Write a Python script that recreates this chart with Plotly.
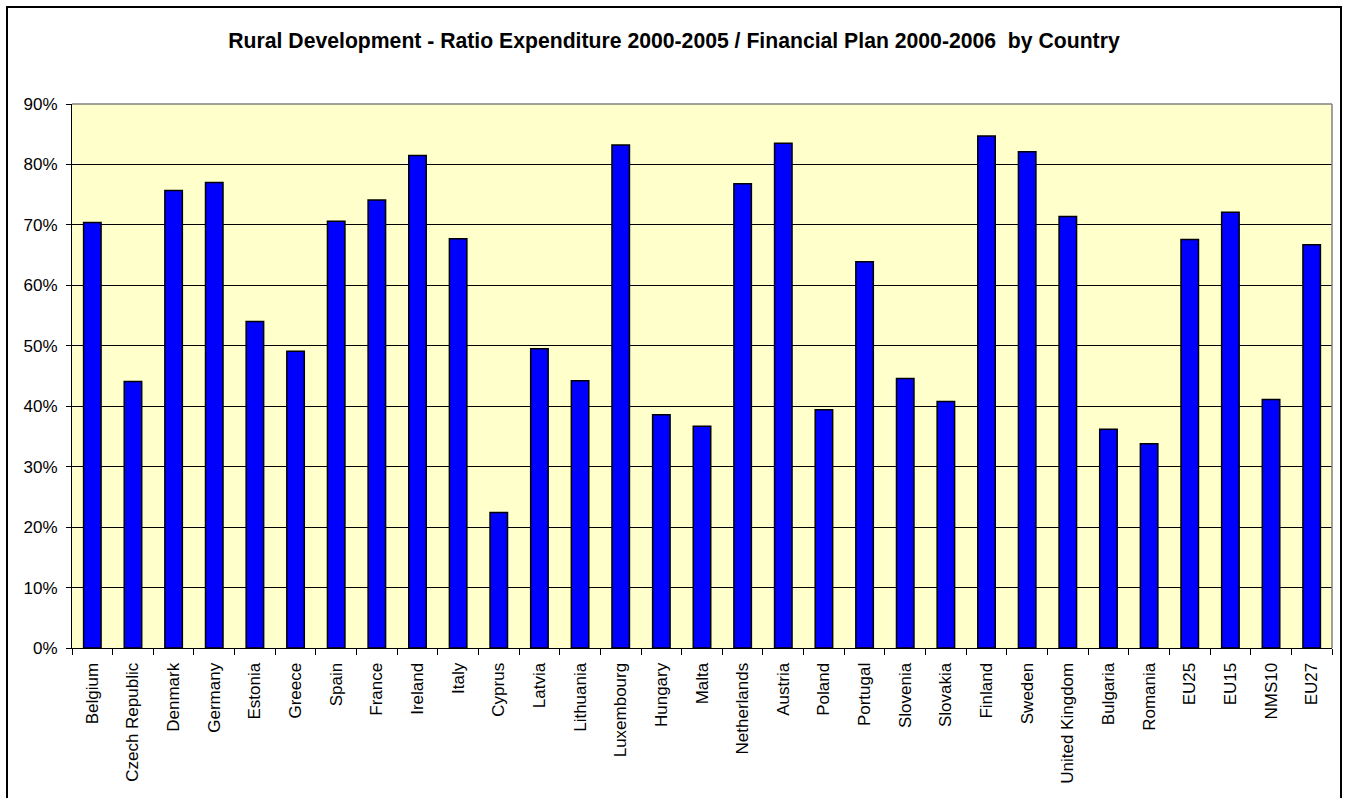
import plotly.graph_objects as go

countries = ["Belgium", "Czech Republic", "Denmark", "Germany", "Estonia", "Greece", "Spain",
             "France", "Ireland", "Italy", "Cyprus", "Latvia", "Lithuania", "Luxembourg",
             "Hungary", "Malta", "Netherlands", "Austria", "Poland", "Portugal", "Slovenia",
             "Slovakia", "Finland", "Sweden", "United Kingdom", "Bulgaria", "Romania",
             "EU25", "EU15", "NMS10", "EU27"]
ratios = [0.704, 0.441, 0.757, 0.770, 0.540, 0.491, 0.706,
          0.741, 0.815, 0.677, 0.224, 0.495, 0.442, 0.832,
          0.386, 0.367, 0.768, 0.835, 0.394, 0.639, 0.446,
          0.408, 0.847, 0.821, 0.714, 0.362, 0.338,
          0.676, 0.721, 0.411, 0.667]
y_ticks = [0, 0.1, 0.2, 0.3, 0.4, 0.5, 0.6, 0.7, 0.8, 0.9]

FONT = "Liberation Sans, Arial, sans-serif"
W, H = 1348, 798
L, R, T, B = 72, 16, 104, 150
pw, ph = W - L - R, H - T - B

fig = go.Figure(go.Bar(
    x=countries, y=ratios,
    marker=dict(color="#0000FF", line=dict(color="#000000", width=1.5)),
    hoverinfo="x+y",
))

fig.update_layout(
    width=W, height=H,
    margin=dict(l=L, r=R, t=T, b=B, autoexpand=False),
    paper_bgcolor="white",
    plot_bgcolor="#FFFFCC",
    bargap=0.57,
    showlegend=False,
    title=dict(
        text="<b>Rural Development - Ratio Expenditure 2000-2005 / Financial Plan 2000-2006  by Country</b>",
        font=dict(family=FONT, size=21.2, color="black"),
        x=0.5, xref="container", xanchor="center",
        y=1 - 41 / H, yref="container", yanchor="middle",
    ),
    font=dict(family=FONT, size=17, color="black"),
)

fig.update_xaxes(
    type="category",
    tickangle=-90,
    tickson="boundaries",
    ticks="outside", ticklen=6, tickcolor="black", tickwidth=1,
    ticklabelstandoff=7,
    showline=True, linecolor="black", linewidth=1,
    showgrid=False,
    tickfont=dict(family=FONT, size=17, color="black"),
    range=[-0.5, len(countries) - 0.5],
)
fig.update_yaxes(
    range=[0, 0.9],
    tickvals=y_ticks,
    tickformat=".0%",
    ticks="outside", ticklen=5, tickcolor="black", tickwidth=1,
    ticklabelstandoff=5,
    showline=True, linecolor="black", linewidth=1,
    showgrid=True, gridcolor="black", gridwidth=1,
    zeroline=False,
    tickfont=dict(family=FONT, size=17, color="black"),
)

# gray top and right border of plot area
fig.add_shape(type="line", xref="paper", yref="paper", x0=0, x1=1, y0=1, y1=1,
              line=dict(color="#808080", width=1.5))
fig.add_shape(type="line", xref="paper", yref="paper", x0=1, x1=1, y0=0, y1=1,
              line=dict(color="#808080", width=1.5))

# outer chart border
fig.add_shape(type="rect", xref="paper", yref="paper",
              x0=(7 - L) / pw, x1=(1341 - L) / pw,
              y0=(H - B - 802) / ph, y1=(H - B - 7) / ph,
              line=dict(color="black", width=2), fillcolor="rgba(0,0,0,0)", layer="above")

fig.write_html("out.html", config={"displayModeBar": False},
               post_script="document.body.style.margin='0';")
